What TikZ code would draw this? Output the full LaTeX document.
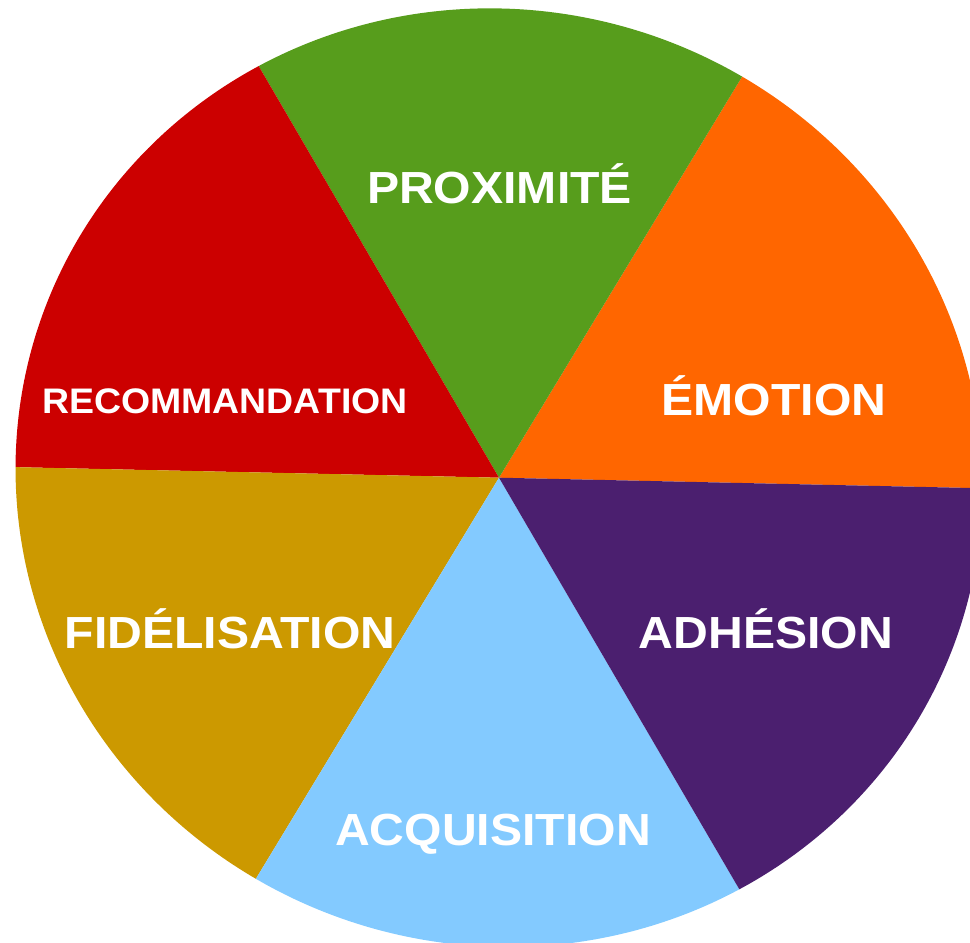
\documentclass[tikz,border=0pt]{standalone}
\usepackage{fontspec}
\setmainfont{Liberation Sans}
\usepackage{graphicx}
\definecolor{cgreen}{HTML}{579D1C}
\definecolor{cred}{HTML}{CC0000}
\definecolor{corange}{HTML}{FF6600}
\definecolor{cpurple}{HTML}{4B1F6F}
\definecolor{cblue}{HTML}{83CAFF}
\definecolor{cgold}{HTML}{CC9900}
\begin{document}
\begin{tikzpicture}[x=1pt,y=1pt,
  lab/.style={text=white, anchor=base, inner sep=0pt, font=\bfseries\fontsize{45}{45}\selectfont},
  labs/.style={lab, font=\bfseries\fontsize{35.5}{35.5}\selectfont}]
\useasboundingbox (0,0) rectangle (970,943);
\coordinate (c) at (499,465.3);
\foreach \col/\a in {corange/15.67, cgreen/75.67, cred/135.67, cgold/195.67, cblue/255.67, cpurple/315.67}{
  \fill[\col] (c) -- plot[domain=\a:\a+60, samples=80]
     ({499+465.07*cos(\x)+132.14*sin(\x)},{465.3-136.88*cos(\x)+448.96*sin(\x)}) -- cycle;
}
\node[lab]  (prox) at (499.5,739.7) {\scalebox{1.07}[1]{PROXIMITÉ}};
\node[labs] (reco) at (225,529.7) {\scalebox{1.055}[1]{RECOMMANDATION}};
\node[lab]  (emot) at (774,527) {\scalebox{1.07}[1]{ÉMOTION}};
\node[lab]  (fide) at (230,294) {\scalebox{1.07}[1]{FIDÉLISATION}};
\node[lab]  (adhe) at (766,294) {\scalebox{1.07}[1]{ADHÉSION}};
\node[lab]  (acqu) at (493,97) {\scalebox{1.07}[1]{ACQUISITION}};
\end{tikzpicture}
\end{document}
